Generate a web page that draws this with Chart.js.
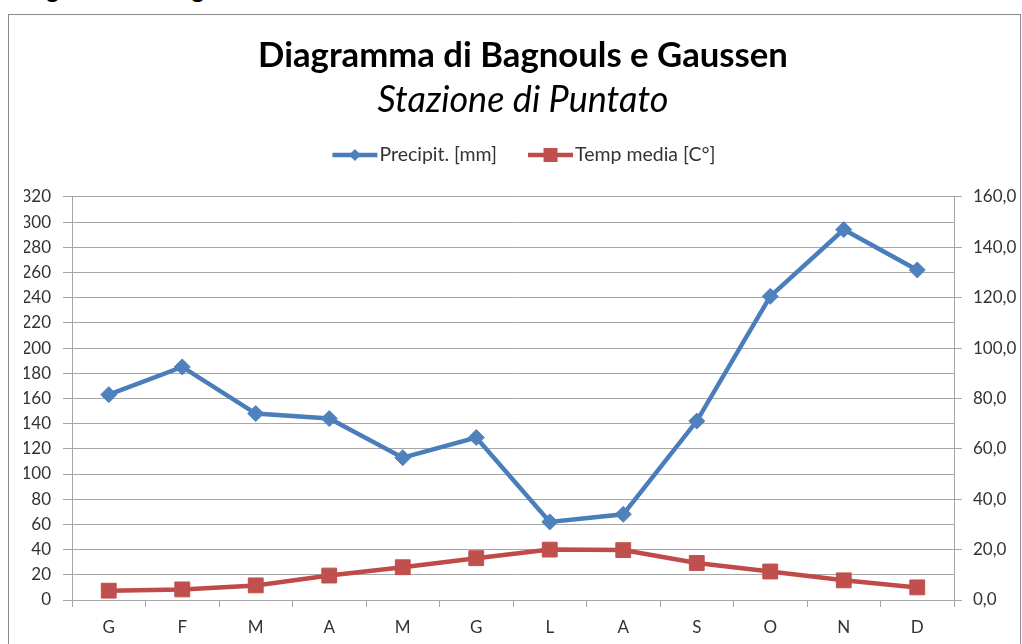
<!DOCTYPE html>
<html>
<head>
    <meta charset="utf-8" />
    <title>Diagramma di Bagnouls e Gaussen</title>
    <script src="https://cdn.jsdelivr.net/npm/chart.js"></script>
    <style>
        body {
            margin: 0;
            padding: 0;
            background: white;
            font-family: Lato, Arial, sans-serif;
            overflow: hidden;
        }

        #heading {
            position: absolute;
            left: 10px;
            top: -26px;
            margin: 0;
            font-size: 24px;
            font-weight: bold;
            color: #000;
        }

        #frame {
            position: absolute;
            left: 8px;
            top: 14px;
            width: 1011px;
            height: 640px;
            border: 1px solid #8a8a8a;
        }

        #wrap {
            position: absolute;
            left: 0;
            top: 0;
            width: 1022px;
            height: 644px;
        }
    </style>
</head>
<body>
    <h1 id="heading">Diagramma di Bagnouls e Gaussen</h1>
    <div id="frame"></div>
    <div id="wrap">
        <canvas id="grafico"></canvas>
    </div>

    <script>
        // dati
        const mesi = ["G", "F", "M", "A", "M", "G", "L", "A", "S", "O", "N", "D"];
        const precipitazioni = [163, 185, 148, 144, 113, 129, 62, 68, 142, 241, 294, 262];
        const tempMedia = [3.7, 4.2, 5.8, 9.7, 13.0, 16.6, 20.0, 19.8, 14.7, 11.3, 7.8, 5.0];
        const tickPrecip = [0, 320, 20];
        const tickTemp = [0, 160, 20];

        const blu = "#4A7EBB";
        const bluMarker = "#4F81BD";
        const rosso = "#BE4B48";
        const rossoMarker = "#C0504D";
        const griglia = "#a6a6a6";
        const testo = "#333333";

        // legenda stile Excel: linea con marcatore al centro, poi il testo
        const legendaExcel = {
            id: "legendaExcel",
            afterDraw(chart) {
                const g = chart.ctx;
                const y = 155;
                const centro = 524;
                const lungLinea = 45;
                g.save();
                g.font = "19.5px Lato";
                g.textBaseline = "middle";
                g.textAlign = "left";
                const voci = chart.data.datasets.map(ds => ({
                    testo: ds.label,
                    linea: ds.borderColor,
                    marker: ds.backgroundColor,
                    tipo: ds.pointStyle,
                    w: g.measureText(ds.label).width
                }));
                const gapTesto = 2;
                const gapVoci = 31;
                let totale = 0;
                voci.forEach((v, i) => {
                    totale += lungLinea + gapTesto + v.w + (i < voci.length - 1 ? gapVoci : 0);
                });
                let x = centro - totale / 2;
                voci.forEach(v => {
                    g.strokeStyle = v.linea;
                    g.lineWidth = 4.5;
                    g.beginPath();
                    g.moveTo(x, y);
                    g.lineTo(x + lungLinea, y);
                    g.stroke();
                    const mx = x + lungLinea / 2;
                    g.fillStyle = v.marker;
                    g.beginPath();
                    if (v.tipo === "rectRot") {
                        g.moveTo(mx, y - 6);
                        g.lineTo(mx + 6, y);
                        g.lineTo(mx, y + 6);
                        g.lineTo(mx - 6, y);
                        g.closePath();
                    } else {
                        g.rect(mx - 7, y - 7, 14, 14);
                    }
                    g.fill();
                    g.fillStyle = testo;
                    g.fillText(v.testo, x + lungLinea + gapTesto, y);
                    x += lungLinea + gapTesto + v.w + gapVoci;
                });
                g.restore();
            }
        };

        const ctx = document.getElementById("grafico").getContext("2d");

        new Chart(ctx, {
            type: "line",
            data: {
                labels: mesi,
                datasets: [{
                    label: "Precipit. [mm]",
                    data: precipitazioni,
                    yAxisID: "y",
                    borderColor: blu,
                    backgroundColor: bluMarker,
                    borderWidth: 4.5,
                    pointStyle: "rectRot",
                    pointRadius: 8,
                    pointBorderWidth: 1,
                    pointBorderColor: bluMarker,
                    tension: 0
                }, {
                    label: "Temp media [C°]",
                    data: tempMedia,
                    yAxisID: "y1",
                    borderColor: rosso,
                    backgroundColor: rossoMarker,
                    borderWidth: 4.5,
                    pointStyle: "rect",
                    pointRadius: 10.5,
                    pointBorderWidth: 1,
                    pointBorderColor: rossoMarker,
                    tension: 0
                }]
            },
            plugins: [legendaExcel],
            options: {
                responsive: true,
                maintainAspectRatio: false,
                animation: false,
                layout: { padding: { left: 24, right: 0, top: 0, bottom: 0 } },
                plugins: {
                    title: {
                        display: true,
                        text: "Diagramma di Bagnouls e Gaussen",
                        color: "#000",
                        font: { family: "Lato", size: 34.7, weight: "bold", lineHeight: 1.2 },
                        padding: { top: 35, bottom: 2 }
                    },
                    subtitle: {
                        display: true,
                        text: "Stazione di Puntato",
                        color: "#000",
                        font: { family: "Lato", size: 36, style: "italic", lineHeight: 1.2 },
                        padding: { top: 0, bottom: 75 }
                    },
                    legend: { display: false },
                    tooltip: { enabled: false }
                },
                scales: {
                    x: {
                        offset: true,
                        grid: {
                            offset: true,
                            drawOnChartArea: false,
                            drawTicks: true,
                            tickLength: 7,
                            color: griglia
                        },
                        border: { color: griglia, width: 1 },
                        ticks: {
                            color: testo,
                            font: { family: "Lato", size: 17 },
                            padding: 10
                        },
                        afterFit: (scale) => { scale.height = 44; }
                    },
                    y: {
                        position: "left",
                        min: tickPrecip[0],
                        max: tickPrecip[1],
                        grid: {
                            color: griglia,
                            tickLength: 9
                        },
                        border: { color: griglia, width: 1 },
                        ticks: {
                            stepSize: tickPrecip[2],
                            color: testo,
                            font: { family: "Lato", size: 17 },
                            padding: 12
                        },
                        afterFit: (scale) => { scale.width = 48; }
                    },
                    y1: {
                        position: "right",
                        min: tickTemp[0],
                        max: tickTemp[1],
                        grid: {
                            drawOnChartArea: false,
                            color: griglia,
                            tickLength: 8
                        },
                        border: { color: griglia, width: 1 },
                        ticks: {
                            stepSize: tickTemp[2],
                            color: testo,
                            font: { family: "Lato", size: 17 },
                            padding: 11,
                            callback: (v) => v.toFixed(1).replace(".", ",")
                        },
                        afterFit: (scale) => { scale.width = 68; }
                    }
                }
            }
        });
    </script>
</body>
</html>
